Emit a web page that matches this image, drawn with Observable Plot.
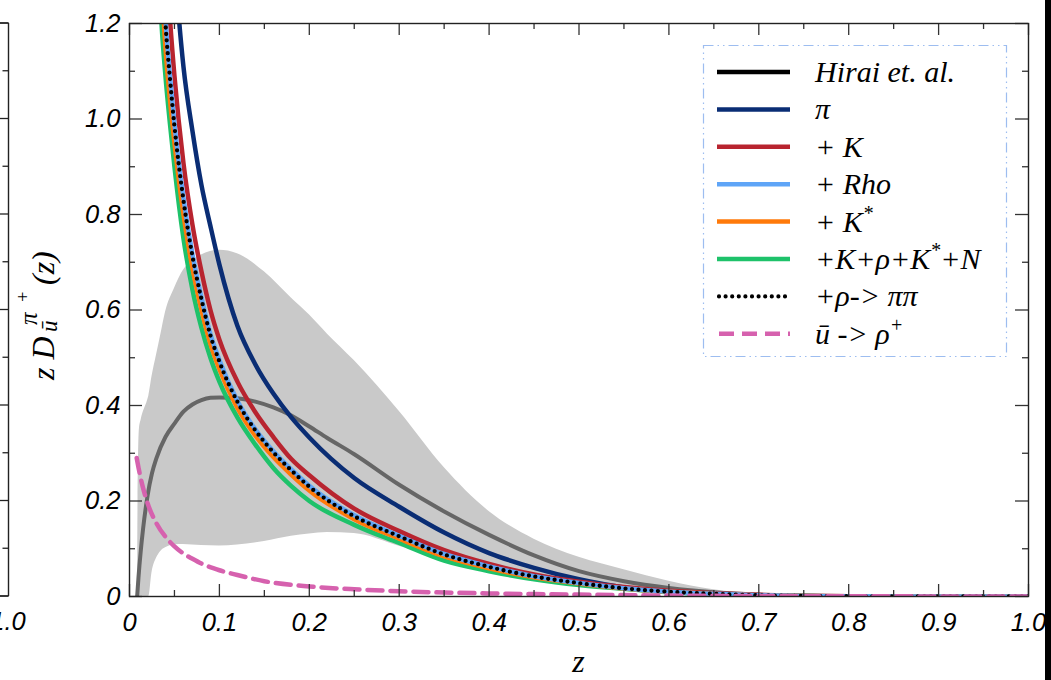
<!DOCTYPE html>
<html><head><meta charset="utf-8">
<script src="https://cdn.jsdelivr.net/npm/d3@7"></script>
<script src="https://cdn.jsdelivr.net/npm/@observablehq/plot@0.6"></script>
<style>body{margin:0;background:#fff;} svg{display:block;}</style>
</head><body>
<script>
// ---- tick values ----
const xMajor = [0,0.1,0.2,0.3,0.4,0.5,0.6,0.7,0.8,0.9,1.0];
const xMinor = [0.05,0.15,0.25,0.35,0.45,0.55,0.65,0.75,0.85,0.95];
const yMajor = [0,0.2,0.4,0.6,0.8,1.0,1.2];
const yMinor = [0.1,0.3,0.5,0.7,0.9,1.1];

// ---- Hirai et al. uncertainty band ----
const bandZ  = [0.009,0.0095,0.011,0.013,0.02,0.0215,0.025,0.03,0.035,0.04,0.05,0.06,0.07,0.08,0.1,0.12,0.15,0.18,0.2,0.22,0.25,0.3,0.35,0.4,0.45,0.5,0.55,0.6,0.65,0.7,0.75];
const bandHi = [0,0.2,0.35,0.37,0.41,0.42,0.46,0.505,0.55,0.595,0.645,0.683,0.703,0.715,0.725,0.718,0.68,0.625,0.59,0.55,0.494,0.388,0.27,0.178,0.12,0.082,0.056,0.032,0.014,0.004,0];
const bandLo = [0,0,0,0,0,0,0.05,0.08,0.095,0.102,0.108,0.109,0.108,0.107,0.106,0.108,0.115,0.126,0.131,0.134,0.132,0.105,0.075,0.05,0.032,0.02,0.011,0.005,0.002,0.001,0];

// ---- Hirai et al. central curve ----
const hiraiZ = [0.0085,0.01,0.0125,0.015,0.02,0.025,0.03,0.04,0.05,0.06,0.07,0.08,0.09,0.1,0.12,0.14,0.16,0.18,0.2,0.22,0.25,0.3,0.35,0.4,0.45,0.5,0.55,0.6,0.65,0.7,0.75,0.8,0.9,1.0];
const hiraiY = [0,0.04,0.095,0.14,0.21,0.258,0.29,0.334,0.362,0.387,0.402,0.411,0.416,0.417,0.415,0.408,0.396,0.379,0.356,0.332,0.298,0.234,0.178,0.129,0.086,0.053,0.032,0.018,0.009,0.004,0.0015,0.0005,0,0];

// ---- model curves ----
const zMain   = [0.03,0.035,0.04,0.045,0.05,0.06,0.07,0.08,0.09,0.1,0.12,0.14,0.16,0.18,0.2,0.25,0.3,0.35,0.4,0.45,0.5,0.55,0.6,0.65,0.7,0.75,0.8,0.9,1.0];
const piY     = [2.2,1.89,1.65,1.47,1.33,1.11,0.975,0.862,0.776,0.695,0.567,0.486,0.425,0.375,0.333,0.248,0.188,0.134,0.091,0.060,0.036,0.019,0.010,0.005,0.002,0.001,0.0005,0,0];
const kY      = [1.82,1.56,1.36,1.21,1.09,0.908,0.779,0.681,0.600,0.538,0.450,0.386,0.334,0.288,0.254,0.184,0.137,0.097,0.068,0.046,0.031,0.020,0.012,0.007,0.0035,0.0015,0.0007,0,0];
const rhoY    = [1.61,1.38,1.21,1.09,0.99,0.835,0.717,0.626,0.55,0.495,0.41,0.35,0.304,0.266,0.232,0.17,0.127,0.089,0.063,0.0425,0.0285,0.0173,0.0102,0.0056,0.0026,0.001,0.0005,0,0];
const kStarY  = [1.53,1.31,1.15,1.04,0.95,0.80,0.688,0.601,0.529,0.476,0.395,0.337,0.292,0.255,0.222,0.162,0.121,0.084,0.059,0.040,0.027,0.0165,0.0097,0.0053,0.0024,0.001,0.0005,0,0];
const allY    = [1.45,1.22,1.09,0.99,0.90,0.75,0.643,0.563,0.50,0.45,0.375,0.318,0.269,0.231,0.200,0.150,0.112,0.075,0.053,0.036,0.024,0.016,0.009,0.0046,0.002,0.001,0.0005,0,0];
const rhoPiPiY= [1.6,1.37,1.2,1.085,0.985,0.83,0.713,0.623,0.547,0.492,0.408,0.348,0.302,0.264,0.230,0.168,0.126,0.088,0.062,0.042,0.028,0.017,0.010,0.0055,0.0025,0.001,0.0005,0,0];

// ---- ubar -> rho+ ----
const pinkZ = [0.008,0.01,0.015,0.02,0.03,0.04,0.05,0.06,0.07,0.08,0.1,0.12,0.15,0.2,0.25,0.3,0.4,0.5,0.6,0.7,0.8,0.9,1.0];
const pinkY = [0.29,0.27,0.228,0.196,0.153,0.125,0.105,0.09,0.079,0.069,0.055,0.045,0.032,0.021,0.015,0.011,0.0065,0.004,0.002,0.001,0.0005,0.0002,0];

// ---- legend ----
const legendKeys   = ["hirai","pi","k","rho","kstar","all","rhopipi","pink"];
const legendColors = ["#000000","#0a2d74","#b8242f","#5fa5f7","#ff7a0a","#1ec26a","#000000","#d661ae"];

// ---- build tables ----
const bandRows  = bandZ.map((z,i)=>({z, lo:bandLo[i], hi:bandHi[i]}));
const hiraiRows = hiraiZ.map((z,i)=>({z, y:hiraiY[i]}));
const mainRows  = zMain.map((z,i)=>({z, pi:piY[i], k:kY[i], rho:rhoY[i], kstar:kStarY[i], all:allY[i], rpp:rhoPiPiY[i]}));
const pinkRows  = pinkZ.map((z,i)=>({z, y:pinkY[i]}));

const fmt = d => d === 0 ? "0" : d.toFixed(1);
const tickFont = "Liberation Sans, Arial, sans-serif";
const W = 4.5;
const line = (key, color, extra={}) => Plot.line(mainRows, {x:"z", y:key, stroke:color, strokeWidth:W, curve:"monotone-x", clip:true, ...extra});

const plot = Plot.plot({
  width: 1051, height: 680,
  marginLeft: 129, marginRight: 23, marginTop: 23, marginBottom: 84,
  x: {domain:[0,1]},
  y: {domain:[0,1.2]},
  style: {background:"white"},
  marks: [
    Plot.areaY(bandRows, {x:"z", y1:"lo", y2:"hi", fill:"#c9c9c9", curve:"monotone-x", clip:true}),
    Plot.line(hiraiRows, {x:"z", y:"y", stroke:"#666666", strokeWidth:4, curve:"monotone-x", clip:true}),
    line("pi", legendColors[1]),
    line("k", legendColors[2]),
    line("all", legendColors[5]),
    line("kstar", legendColors[4]),
    line("rho", legendColors[3]),
    line("rpp", "#000", {strokeWidth:4.3, strokeDasharray:"0 6.5", strokeLinecap:"round"}),
    Plot.line(pinkRows, {x:"z", y:"y", stroke:legendColors[7], strokeWidth:4.5, strokeDasharray:"15 8", curve:"monotone-x", clip:true}),
    // inward ticks
    Plot.tickX(xMajor, {x:d=>d, insetTop:561, stroke:"#333", strokeWidth:1.3}),
    Plot.tickX(xMinor, {x:d=>d, insetTop:567, stroke:"#333", strokeWidth:1.3}),
    Plot.tickX(xMajor, {x:d=>d, insetBottom:561, stroke:"#333", strokeWidth:1.3}),
    Plot.tickX(xMinor, {x:d=>d, insetBottom:567, stroke:"#333", strokeWidth:1.3}),
    Plot.tickY(yMajor, {y:d=>d, insetRight:886, stroke:"#333", strokeWidth:1.3}),
    Plot.tickY(yMinor, {y:d=>d, insetRight:893, stroke:"#333", strokeWidth:1.3}),
    Plot.tickY(yMajor, {y:d=>d, insetLeft:886, stroke:"#333", strokeWidth:1.3}),
    Plot.tickY(yMinor, {y:d=>d, insetLeft:893, stroke:"#333", strokeWidth:1.3}),
    Plot.frame({stroke:"#222", strokeWidth:1.4}),
    Plot.axisX(xMajor, {tickSize:0, tickPadding:16, tickFormat:fmt, fontSize:25.5, fontStyle:"italic", fontFamily:tickFont, label:null}),
    Plot.axisY(yMajor, {tickSize:0, tickPadding:9, tickFormat:fmt, fontSize:25.5, fontStyle:"italic", fontFamily:tickFont, label:null})
  ]
});
document.body.appendChild(plot);

const svg = d3.select(plot);
const xs = plot.scale("x"), ys = plot.scale("y");
const serif = "Liberation Serif, Times New Roman, serif";

// neighbouring panels (cropped edges)
const nb = svg.append("g").attr("stroke","#222").attr("stroke-width",1.4);
nb.append("line").attr("x1",8.5).attr("x2",8.5).attr("y1",ys.apply(1.2)).attr("y2",ys.apply(0));
nb.append("line").attr("x1",0).attr("x2",8.5).attr("y1",ys.apply(1.2)).attr("y2",ys.apply(1.2));
nb.append("line").attr("x1",0).attr("x2",8.5).attr("y1",ys.apply(0)).attr("y2",ys.apply(0));
yMajor.forEach(v=>nb.append("line").attr("x1",0).attr("x2",8.5).attr("y1",ys.apply(v)).attr("y2",ys.apply(v)).attr("stroke-width",1.3));
yMinor.forEach(v=>nb.append("line").attr("x1",2.5).attr("x2",8.5).attr("y1",ys.apply(v)).attr("y2",ys.apply(v)).attr("stroke-width",1.3));
svg.append("text").attr("x",8).attr("y",630).attr("text-anchor","middle").attr("font-family",tickFont)
  .attr("font-style","italic").attr("font-size",25.5).text("1.0");
svg.append("rect").attr("x",1045).attr("y",0).attr("width",6).attr("height",680).attr("fill","#000");

// axis titles
svg.append("text").attr("x",xs.apply(0.5)).attr("y",672).attr("text-anchor","middle")
  .attr("font-family",serif).attr("font-style","italic").attr("font-size",32).text("z");
const lab = svg.append("text").attr("transform","translate(54,380) rotate(-90)").attr("text-anchor","start")
  .attr("font-family",serif).attr("font-style","italic").attr("fill","#000");
lab.append("tspan").attr("x",0).attr("y",0).attr("font-size",32).text("z D");
lab.append("tspan").attr("x",48).attr("y",3).attr("font-size",23).text("ū");
lab.append("tspan").attr("x",55).attr("y",-17).attr("font-size",25).text("π");
lab.append("tspan").attr("x",77).attr("y",-25).attr("font-size",18).text("+");
lab.append("tspan").attr("x",95).attr("y",0).attr("font-size",32).text("(z)");

// legend
const lg = svg.append("g").attr("text-anchor","start");
lg.append("rect").attr("x",703.5).attr("y",45.5).attr("width",303).attr("height",311)
  .attr("fill","white").attr("stroke","#9dbdf0").attr("stroke-width",1.2)
  .attr("stroke-dasharray","10 4 1.5 4 1.5 4");
const rowY = i => 72 + i*37.4;
const texts = [
  [["Hirai et. al.",0]],
  [["π",0]],
  [["+ K",0]],
  [["+ Rho",0]],
  [["+ K",0],["*",1]],
  [["+K+ρ+K",0],["*",1],["+N",0]],
  [["+ρ-> ππ",0]],
  [["ū -> ρ",0],["+",1]]
];
legendKeys.forEach((k,i)=>{
  const y = rowY(i);
  const l = lg.append("line").attr("x1",717).attr("x2",790).attr("y1",y).attr("y2",y)
    .attr("stroke",legendColors[i]).attr("stroke-width",4.5);
  if (k==="rhopipi") l.attr("stroke-dasharray","0 6.6").attr("stroke-linecap","round").attr("stroke-width",4.2).attr("x1",719);
  if (k==="pink") l.attr("stroke-dasharray","15 8").attr("x1",719);
  const t = lg.append("text").attr("x",815).attr("y",y+10).attr("text-anchor","start").attr("font-family",serif)
    .attr("font-style","italic").attr("font-size",30).attr("fill","#000");
  let raised = false;
  texts[i].forEach(([s,sup])=>{
    const ts = t.append("tspan").text(s);
    if (sup && !raised) { ts.attr("dy",-12).attr("font-size",20); raised = true; }
    else if (!sup && raised) { ts.attr("dy",12); raised = false; }
  });
});
</script>
</body></html>
